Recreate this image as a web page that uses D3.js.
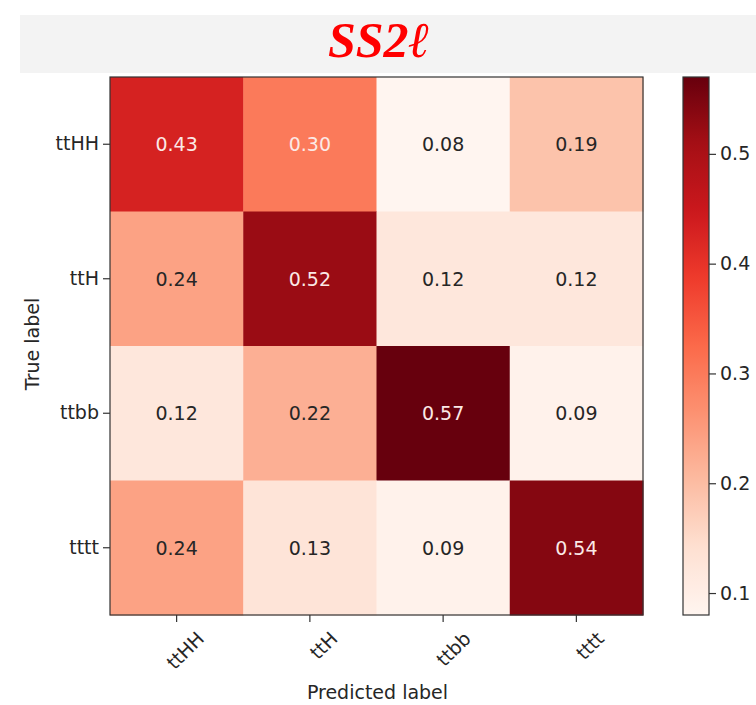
<!DOCTYPE html>
<html>
<head>
<meta charset="utf-8">
<script src="https://cdn.jsdelivr.net/npm/d3@7"></script>
<style>
  body { margin: 0; background: #fff; }
  text { font-family: "DejaVu Sans", sans-serif; }
</style>
</head>
<body>
<div id="chart"></div>
<script>
const width = 756;
const height = 705;

// data
const predicted = ["ttHH", "ttH", "ttbb", "tttt"];
const trueLabels = ["ttHH", "ttH", "ttbb", "tttt"];
const values = [
  [0.43, 0.30, 0.08, 0.19],
  [0.24, 0.52, 0.12, 0.12],
  [0.12, 0.22, 0.57, 0.09],
  [0.24, 0.13, 0.09, 0.54]
];
const colorbarTicks = [0.1, 0.2, 0.3, 0.4, 0.5];
// matplotlib "Reds" anchor colours
const redsColors = ["#fff5f0", "#fee0d2", "#fcbba1", "#fc9272", "#fb6a4a",
                    "#ef3b2c", "#cb181d", "#a50f15", "#67000d"];

const cells = [];
values.forEach((row, i) => row.forEach((v, j) => {
  cells.push({ row: trueLabels[i], col: predicted[j], value: v });
}));

const flat = values.flat();
const vmin = d3.min(flat), vmax = d3.max(flat);
const thresh = 0.28;

const plot = { left: 110, right: 643, top: 77, bottom: 615 };
const cbar = { left: 683, right: 709 };
const fs = "19px";

const reds = d3.piecewise(d3.interpolateRgb, redsColors);
const color = d3.scaleSequential(reds).domain([vmin, vmax]);

const svg = d3.select("#chart").append("svg")
  .attr("width", width)
  .attr("height", height);

// title band
svg.append("rect")
  .attr("x", 20).attr("y", 15)
  .attr("width", width - 20).attr("height", 58)
  .attr("fill", "#f3f3f3");

svg.append("text")
  .attr("x", 379).attr("y", 57)
  .attr("text-anchor", "middle")
  .style("font-family", "'Liberation Serif', serif")
  .style("font-weight", "bold")
  .style("font-style", "italic")
  .style("font-size", "50px")
  .attr("fill", "#ff0000")
  .text("SS2ℓ");

const x = d3.scaleBand()
  .domain(predicted)
  .range([plot.left, plot.right]);

const y = d3.scaleBand()
  .domain(trueLabels)
  .range([plot.top, plot.bottom]);

svg.append("g")
  .selectAll("rect")
  .data(cells)
  .join("rect")
    .attr("x", d => x(d.col))
    .attr("y", d => y(d.row))
    .attr("width", x.bandwidth() + 0.5)
    .attr("height", y.bandwidth() + 0.5)
    .attr("fill", d => color(d.value));

svg.append("g")
  .selectAll("text")
  .data(cells)
  .join("text")
    .attr("x", d => x(d.col) + x.bandwidth() / 2)
    .attr("y", d => y(d.row) + y.bandwidth() / 2)
    .attr("text-anchor", "middle")
    .attr("dy", "0.36em")
    .style("font-size", fs)
    .attr("fill", d => d.value > thresh ? "#fbe9e6" : "#262626")
    .text(d => d.value.toFixed(2));

svg.append("rect")
  .attr("x", plot.left).attr("y", plot.top)
  .attr("width", plot.right - plot.left)
  .attr("height", plot.bottom - plot.top)
  .attr("fill", "none")
  .attr("stroke", "#333")
  .attr("stroke-width", 1.2);

// axes
const xAxis = g => g
  .attr("transform", `translate(0,${plot.bottom})`)
  .call(d3.axisBottom(x).tickSize(7).tickPadding(4))
  .call(g => g.select(".domain").remove())
  .call(g => g.selectAll(".tick line").attr("stroke", "#333").attr("stroke-width", 1.2))
  .call(g => g.selectAll(".tick text")
    .attr("fill", "#262626")
    .style("font-size", fs)
    .attr("text-anchor", "end")
    .attr("transform", "translate(11,7) rotate(-45)")
    .attr("dy", "0.75em"));

const yAxis = g => g
  .attr("transform", `translate(${plot.left},0)`)
  .call(d3.axisLeft(y).tickSize(7).tickPadding(4))
  .call(g => g.select(".domain").remove())
  .call(g => g.selectAll(".tick line").attr("stroke", "#333").attr("stroke-width", 1.2))
  .call(g => g.selectAll(".tick text")
    .attr("fill", "#262626")
    .style("font-size", fs));

svg.append("g").call(xAxis);
svg.append("g").call(yAxis);

svg.append("text")
  .attr("x", (plot.left + plot.right) / 2 + 1)
  .attr("y", 699)
  .attr("text-anchor", "middle")
  .style("font-size", fs)
  .attr("fill", "#262626")
  .text("Predicted label");

svg.append("text")
  .attr("transform", `translate(39,${(plot.top + plot.bottom) / 2 - 2}) rotate(-90)`)
  .attr("text-anchor", "middle")
  .style("font-size", fs)
  .attr("fill", "#262626")
  .text("True label");

// colorbar
const cy = d3.scaleLinear()
  .domain([vmin, vmax])
  .range([plot.bottom, plot.top]);

const grad = svg.append("defs").append("linearGradient")
  .attr("id", "cbgrad")
  .attr("x1", 0).attr("y1", 1).attr("x2", 0).attr("y2", 0);

grad.selectAll("stop")
  .data(d3.range(0, 1.0001, 0.02))
  .join("stop")
    .attr("offset", d => d)
    .attr("stop-color", d => reds(d));

svg.append("rect")
  .attr("x", cbar.left).attr("y", plot.top)
  .attr("width", cbar.right - cbar.left)
  .attr("height", plot.bottom - plot.top)
  .attr("fill", "url(#cbgrad)")
  .attr("stroke", "#333")
  .attr("stroke-width", 1.2);

svg.append("g")
  .attr("transform", `translate(${cbar.right},0)`)
  .call(d3.axisRight(cy).tickValues(colorbarTicks).tickFormat(d3.format(".1f")).tickSize(7).tickPadding(4))
  .call(g => g.select(".domain").remove())
  .call(g => g.selectAll(".tick line").attr("stroke", "#333").attr("stroke-width", 1.2))
  .call(g => g.selectAll(".tick text")
    .attr("fill", "#262626")
    .style("font-size", fs));
</script>
</body>
</html>
